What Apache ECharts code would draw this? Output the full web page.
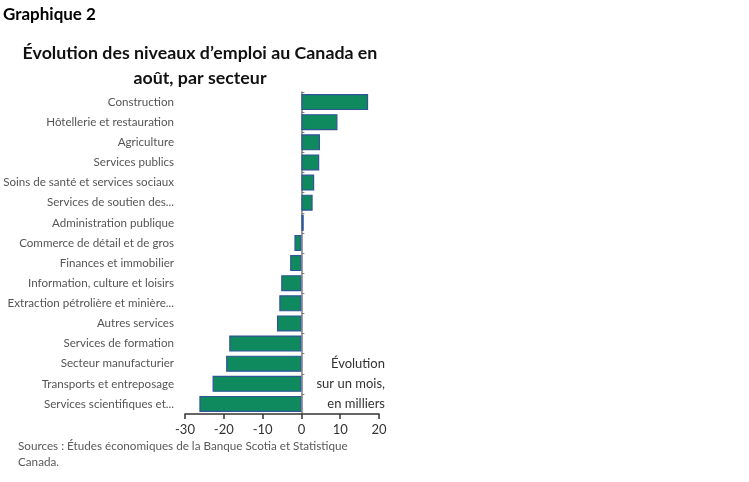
<!DOCTYPE html>
<html>
<head>
<meta charset="utf-8">
<script src="https://cdn.jsdelivr.net/npm/echarts@6/dist/echarts.min.js"></script>
<style>
  html, body { margin: 0; padding: 0; background: #fff; }
  #chart { width: 749px; height: 482px; }
</style>
</head>
<body>
<div id="chart"></div>
<script>
// secteurs, du haut vers le bas
const sectors = [
  'Construction',
  'Hôtellerie et restauration',
  'Agriculture',
  'Services publics',
  'Soins de santé et services sociaux',
  'Services de soutien des...',
  'Administration publique',
  'Commerce de détail et de gros',
  'Finances et immobilier',
  'Information, culture et loisirs',
  'Extraction pétrolière et minière...',
  'Autres services',
  'Services de formation',
  'Secteur manufacturier',
  'Transports et entreposage',
  'Services scientifiques et...'
];
// évolution sur un mois, en milliers
const change = [17.2, 9.3, 4.8, 4.6, 3.3, 2.9, 0.6, -1.8, -2.9, -5.2, -5.7, -6.3, -18.6, -19.4, -22.9, -26.3];
const xTicks = [-30, 20, 10];  // min, max, interval
const noteLines = ['Évolution', 'sur un mois,', 'en milliers'];

const FONT = 'Lato, "Open Sans", sans-serif';

const chart = echarts.init(document.getElementById('chart'));
chart.setOption({
  animation: false,
  textStyle: { fontFamily: FONT },
  title: [
    { text: 'Graphique 2', left: 3, top: 6, padding: 0,
      textStyle: { fontFamily: FONT, fontSize: 17, fontWeight: 'bold', color: '#000' } },
    { text: 'Évolution des niveaux d’emploi au Canada en\naoût, par secteur', left: 195, top: 36, textAlign: 'center',
      textStyle: { fontFamily: FONT, fontSize: 17.8, fontWeight: 'bold', color: '#111', lineHeight: 25 } }
  ],
  grid: { left: 185, right: 370, top: 92, bottom: 68 },
  xAxis: {
    type: 'value', min: xTicks[0], max: xTicks[1], interval: xTicks[2],
    splitLine: { show: false },
    axisLine: { show: true, onZero: false, lineStyle: { color: '#333', width: 1.5 } },
    axisTick: { show: true, length: 5, lineStyle: { color: '#333', width: 1.5 } },
    axisLabel: { color: '#333', fontSize: 13, margin: 9 }
  },
  yAxis: [
    {
      type: 'category', data: sectors, inverse: true,
      axisLine: { show: false, onZero: false },
      axisTick: { show: false },
      axisLabel: { color: '#555', fontSize: 11.6, margin: 11 }
    },
    {
      type: 'category', data: sectors, inverse: true, position: 'left',
      axisLine: { show: true, onZero: true, lineStyle: { color: '#7f7f7f', width: 1.5 } },
      axisTick: { show: true, inside: true, length: 3, lineStyle: { color: '#7f7f7f' } },
      axisLabel: { show: false }
    }
  ],
  series: [{
    type: 'bar', data: change, barCategoryGap: '20%', yAxisIndex: 0,
    itemStyle: { color: '#0f8a5f', borderColor: '#2f5597', borderWidth: 1.2 }
  }],
  graphic: noteLines.map((t, i) => ({
    type: 'text', x: 385, y: 364 + i * 20,
    style: { text: t, align: 'right', verticalAlign: 'middle', fontFamily: FONT, fontSize: 13, fill: '#333' }
  })).concat([
    { type: 'text', left: 18, top: 438,
      style: { text: 'Sources : Études économiques de la Banque Scotia et Statistique\nCanada.', fontFamily: FONT, fontSize: 11.7, lineHeight: 16, fill: '#595959' } }
  ])
});
</script>
</body>
</html>
